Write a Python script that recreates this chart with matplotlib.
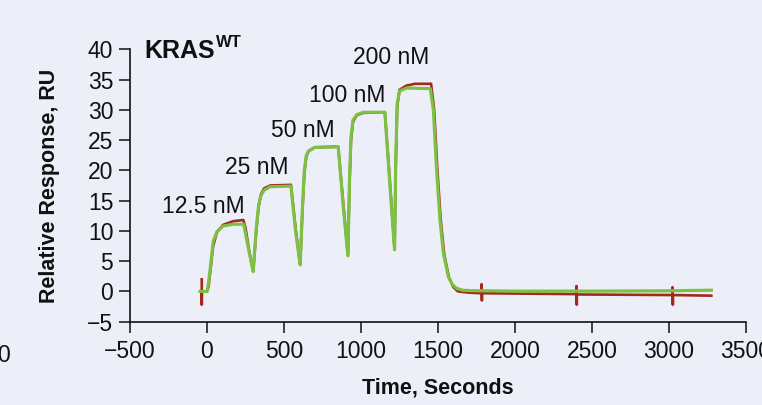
import matplotlib
matplotlib.use("Agg")
import matplotlib.pyplot as plt

t_measured = [-34, -34, -33, 0, 10, 20, 40, 65, 105, 170, 236, 250, 275, 300,
              320, 335, 350, 370, 410, 545, 575, 605,
              620, 632, 645, 660, 700, 852, 885, 915,
              925, 935, 948, 972, 1015, 1155, 1188, 1218,
              1226, 1235, 1250, 1295, 1350, 1455, 1475, 1495, 1517, 1540, 1572,
              1600, 1630, 1700, 1782, 1783, 1785, 1786, 2000,
              2398, 2399, 2401, 2402, 3022, 3023, 3025, 3026, 3275]
ru_measured = [2.0, -2.2, 0.0, 0.0, 0.8, 3.0, 7.5, 9.8, 11.0, 11.6, 11.8, 10.5, 6.5, 3.3,
               10.0, 14.0, 16.0, 17.0, 17.5, 17.6, 10.5, 4.4,
               13.5, 19.5, 22.3, 23.2, 23.8, 23.9, 14.5, 5.9,
               17.5, 25.0, 28.0, 29.1, 29.5, 29.6, 18.0, 6.9,
               21.0, 30.5, 33.3, 34.0, 34.3, 34.3, 30.0, 20.5, 12.0, 6.2, 2.2,
               0.7, 0.0, -0.2, -0.3, 1.2, -1.5, -0.3, -0.35,
               -0.45, 0.9, -2.2, -0.5, -0.6, 0.7, -2.2, -0.6, -0.7]

# kinetic fit (green)
t_fit = [-45, 2, 10, 20, 40, 65, 105, 170, 238, 270, 300,
         320, 335, 350, 370, 410, 545, 575, 605,
         620, 632, 645, 660, 700, 852, 885, 915,
         925, 935, 948, 972, 1015, 1155, 1188, 1218,
         1226, 1235, 1250, 1295, 1450, 1470, 1491, 1513, 1535, 1567,
         1595, 1621, 1660, 1710, 2000, 2500, 3000, 3275]
ru_fit = [0.0, 0.0, 1.5, 3.6, 8.2, 9.9, 10.8, 11.1, 11.1, 7.0, 3.3,
          10.5, 14.2, 15.8, 16.7, 17.3, 17.4, 10.0, 4.4,
          14.0, 20.0, 22.5, 23.2, 23.8, 23.9, 14.0, 5.9,
          18.0, 25.5, 28.3, 29.2, 29.6, 29.6, 17.5, 6.9,
          22.0, 31.0, 33.1, 33.6, 33.5, 30.0, 20.1, 11.8, 6.3, 2.45,
          1.1, 0.5, 0.2, 0.13, 0.05, 0.05, 0.1, 0.2]

conc_labels = ["12.5 nM", "25 nM", "50 nM", "100 nM", "200 nM"]
label_x = [-23, 321, 623, 912, 1198]
label_y = [13.0, 19.4, 25.5, 31.3, 37.6]

x_ticks = [-500, 0, 500, 1000, 1500, 2000, 2500, 3000, 3500]
y_ticks = [-5, 0, 5, 10, 15, 20, 25, 30, 35, 40]

bg = "#ECEEF8"
ink = "#111111"
plt.rcParams["font.family"] = ["Liberation Sans", "DejaVu Sans"]

fig = plt.figure(figsize=(7.62, 4.05), dpi=100, facecolor=bg)
ax = fig.add_axes([0.1706, 0.2057, 0.8084, 0.6726], facecolor=bg)

ax.plot(t_measured, ru_measured, color="#A2291B", lw=1.9, solid_joinstyle="round")
ax.plot(t_fit, ru_fit, color="#7DC143", lw=2.3, solid_joinstyle="round")

for txt, lx, ly in zip(conc_labels, label_x, label_y):
    ax.text(lx, ly, txt, ha="center", va="baseline", fontsize=16.5, color=ink)

ax.set_xlim(-500, 3500)
ax.set_ylim(-5, 40)
ax.set_xticks(x_ticks)
ax.set_yticks(y_ticks)
ax.set_xticklabels([str(v).replace("-", "\u2212") for v in x_ticks])
ax.set_yticklabels([str(v).replace("-", "\u2212") for v in y_ticks])
ax.tick_params(direction="out", length=8, width=1.1, labelsize=16.5, colors=ink)
ax.tick_params(axis="x", pad=5)
ax.tick_params(axis="y", pad=4)
for side in ("top", "right"):
    ax.spines[side].set_visible(False)
for side in ("left", "bottom"):
    ax.spines[side].set_linewidth(1.2)
    ax.spines[side].set_color(ink)

ax.set_xlabel("Time, Seconds", fontsize=15.5, fontweight="bold", color=ink)
ax.set_ylabel("Relative Response, RU", fontsize=15.5, fontweight="bold", color=ink)
ax.xaxis.set_label_coords(0.5, -0.205)
ax.yaxis.set_label_coords(-0.114, 0.5)

fig.text(144 / 762, 1 - 58 / 405, "KRAS", fontsize=18, fontweight="bold", va="baseline", color=ink)
fig.text(216 / 762, 1 - 47 / 405, "WT", fontsize=12, fontweight="bold", va="baseline", color=ink)
# cut-off tick label from neighbouring panel
fig.text(4 / 762, 1 - 362 / 405, "0", fontsize=16.5, ha="center", va="baseline", color=ink)

fig.savefig("out.png", dpi=100, facecolor=bg)
